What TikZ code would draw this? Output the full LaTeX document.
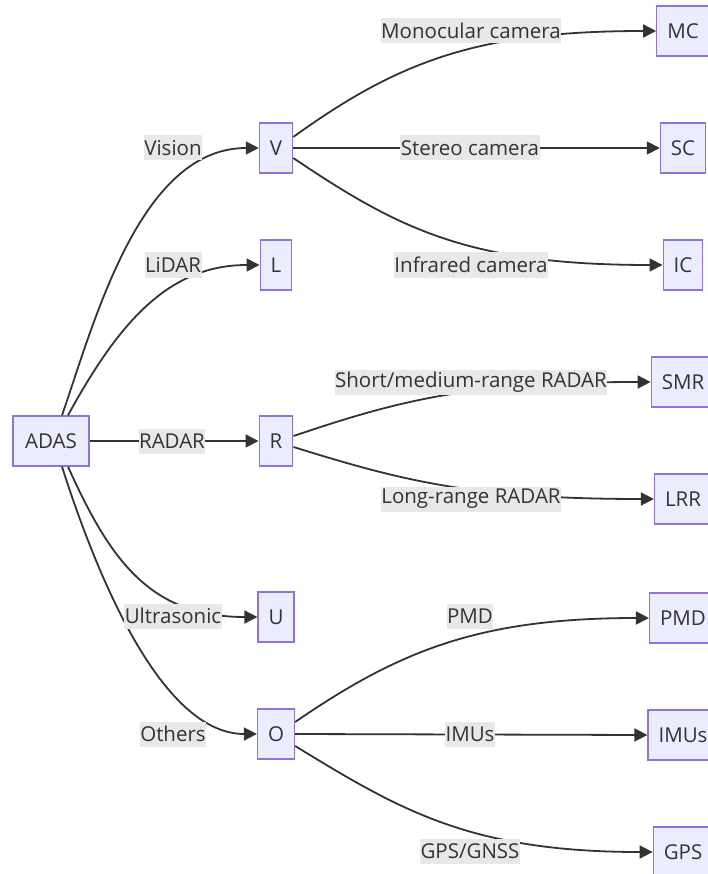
\documentclass[tikz,border=0pt]{standalone}
\usepackage{fontspec}
\setmainfont{Open Sans}
\usetikzlibrary{arrows.meta}
\definecolor{nodefill}{HTML}{ECECFF}
\definecolor{nodeborder}{HTML}{9370DB}
\definecolor{edgecol}{HTML}{333333}
\definecolor{labelbg}{HTML}{E8E8E8}
\begin{document}
\begin{tikzpicture}[x=1pt,y=-1pt,
  box/.style={draw=nodeborder,fill=nodefill,line width=1.3pt,minimum height=50pt,inner xsep=10.5pt,inner ysep=0pt,text=edgecol,font=\fontsize{20.5}{24}\selectfont},
  elabel/.style={fill=labelbg,inner xsep=0.5pt,inner ysep=0pt,minimum height=25pt,text=edgecol,font=\fontsize{20.5}{24}\selectfont},
  conn/.style={draw=edgecol,line width=1.8pt,-{Triangle[length=13pt,width=13pt]}}]
\useasboundingbox (0,0) rectangle (707,874);
\fill[white] (0,0) rectangle (707,874);
% nodes
\node[box,minimum width=76pt] (adas) at (51,441) {ADAS};
\node[box] (v) at (276,148) {V};
\node[box] (l) at (276,265) {L};
\node[box] (r) at (276,441) {R};
\node[box] (u) at (276,617) {U};
\node[box] (o) at (276,734) {O};
\node[box] (mc) at (683,31) {MC};
\node[box] (sc) at (683,148) {SC};
\node[box] (ic) at (683,265) {IC};
\node[box] (smr) at (683,382) {SMR};
\node[box] (lrr) at (683,499) {LRR};
\node[box] (pmd) at (683,618) {PMD};
\node[box] (imus) at (683,735) {IMUs};
\node[box] (gps) at (683,852) {GPS};
% edges from ADAS
\draw[conn] ([xshift=11pt]adas.north) .. controls (95,320) and (140,148) .. (v.west);
\draw[conn] ([xshift=17pt]adas.north) .. controls (120,320) and (170,265) .. (l.west);
\draw[conn] (adas.east) -- (r.west);
\draw[conn] ([xshift=17pt]adas.south) .. controls (110,560) and (150,617) .. (u.west);
\draw[conn] ([xshift=11pt]adas.south) .. controls (95,570) and (160,734) .. (o.west);
% edges from V
\draw[conn] ([yshift=11pt]v.east) .. controls (400,60) and (480,31) .. (mc.west);
\draw[conn] (v.east) -- (sc.west);
\draw[conn] ([yshift=-10pt]v.east) .. controls (400,230) and (470,265) .. (ic.west);
% edges from R
\draw[conn] ([yshift=5pt]r.east) .. controls (400,400) and (470,382) .. (smr.west);
\draw[conn] ([yshift=-6pt]r.east) .. controls (400,480) and (470,499) .. (lrr.west);
% edges from O
\draw[conn] ([yshift=12pt]o.east) .. controls (400,650) and (480,618) .. (pmd.west);
\draw[conn] (o.east) -- (imus.west);
\draw[conn] ([yshift=-12pt]o.east) .. controls (400,810) and (470,852) .. (gps.west);
% labels
\node[elabel] (lvision) at (173,148) {Vision};
\node[elabel] (llidar) at (173,265) {LiDAR};
\node[elabel] (lradar) at (172,441) {RADAR};
\node[elabel] (lultra) at (173,616) {Ultrasonic};
\node[elabel] (lothers) at (173,734) {Others};
\node[elabel] (lmono) at (471,31) {Monocular camera};
\node[elabel] (lstereo) at (470,148) {Stereo camera};
\node[elabel] (linfra) at (471,265) {Infrared camera};
\node[elabel] (lsmr) at (471,382) {Short/medium-range RADAR};
\node[elabel] (llrr) at (471,499) {Long-range RADAR};
\node[elabel] (lpmd) at (470,616) {PMD};
\node[elabel] (limus) at (470,734) {IMUs};
\node[elabel] (lgps) at (470,851) {GPS/GNSS};
\end{tikzpicture}
\end{document}
